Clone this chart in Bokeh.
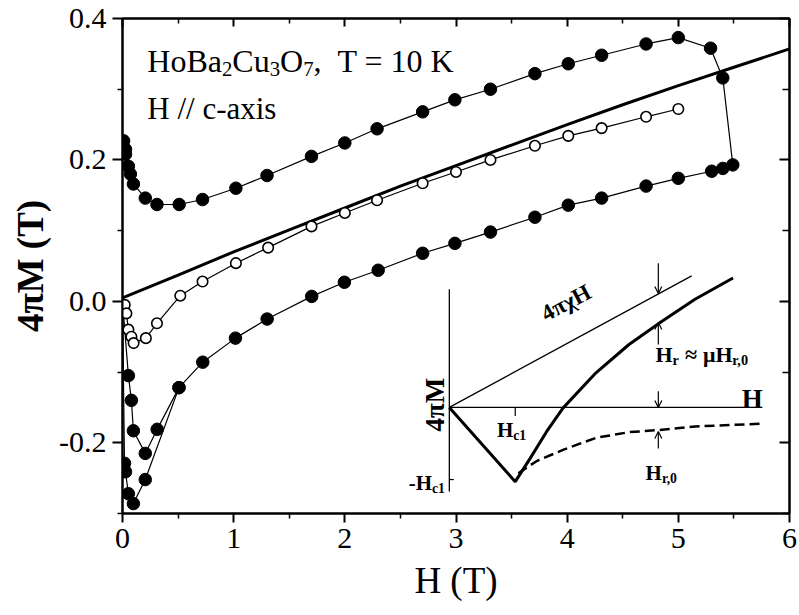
import numpy as np
from bokeh.plotting import figure
from bokeh.models import (LinearAxis, FixedTicker, NumeralTickFormatter, Label,
                          Arrow, OpenHead, Range1d, CustomLabelingPolicy)
from bokeh.embed import file_html
from bokeh.resources import INLINE

# ---------------- data ----------------
# main hysteresis loop (filled circles): up-sweep then down-sweep
loop_H = [0.0, 0.053, 0.080, 0.098, 0.205, 0.312, 0.508, 0.722, 1.016, 1.301, 1.702, 1.996,
          2.30, 2.70, 2.99, 3.31, 3.71, 4.01, 4.31, 4.71, 5.00, 5.30, 5.40, 5.49,
          5.40, 5.29, 5.00, 4.71, 4.31, 4.01, 3.71, 3.31, 2.99, 2.70, 2.29, 2.00,
          1.70, 1.30, 1.02, 0.72, 0.51, 0.31, 0.205, 0.098, 0.071, 0.053, 0.027, 0.027, 0.01]
loop_M = [0.0, -0.105, -0.140, -0.183, -0.215, -0.181, -0.122, -0.086, -0.052, -0.025, 0.007, 0.027,
          0.044, 0.068, 0.082, 0.098, 0.119, 0.136, 0.146, 0.163, 0.174, 0.184, 0.188, 0.193,
          0.316, 0.358, 0.373, 0.364, 0.348, 0.336, 0.322, 0.300, 0.285, 0.268, 0.244, 0.224,
          0.205, 0.178, 0.160, 0.144, 0.137, 0.137, 0.146, 0.166, 0.180, 0.191, 0.208, 0.215, 0.227]

# virgin curve (filled circles)
virgin_H = [0.0, 0.018, 0.027, 0.053, 0.098, 0.205, 0.508]
virgin_M = [0.0, -0.229, -0.241, -0.272, -0.286, -0.252, -0.122]

# open circles
open_H = [0.02, 0.035, 0.053, 0.08, 0.10, 0.21, 0.31, 0.52, 0.72, 1.02, 1.31, 1.70,
          2.00, 2.29, 2.70, 3.00, 3.31, 3.71, 4.01, 4.31, 4.71, 5.00]
open_M = [-0.005, -0.017, -0.040, -0.050, -0.059, -0.052, -0.031, 0.008, 0.028, 0.054, 0.076, 0.106,
          0.125, 0.143, 0.167, 0.183, 0.200, 0.220, 0.234, 0.245, 0.261, 0.272]

# thick reference line
thick_H = [0.0, 0.5, 1.0, 1.5, 2.0, 2.5, 3.0, 3.5, 4.0, 4.5, 5.0, 5.5, 6.0]
thick_M = [0.005, 0.037, 0.070, 0.101, 0.132, 0.163, 0.192, 0.221, 0.250, 0.278, 0.305, 0.331, 0.357]

# axis ticks
XTICKS = [0, 1, 2, 3, 4, 5, 6]
XMINOR = [0.5, 1.5, 2.5, 3.5, 4.5, 5.5]
YTICKS = [-0.2, 0.0, 0.2, 0.4]
YMINOR = [-0.3, -0.1, 0.1, 0.3]

# inset schematic (relative units)
ins_haxis_h = [0.0, 2.81]
ins_haxis_m = [0.0, 0.0]
ins_vaxis_h = [0.0, 0.0]
ins_vaxis_m = [0.167, -0.119]
ins_chi_h = [0.0, 2.18]
ins_chi_m = [0.0, 0.186]
ins_thick_h = [0.0, 0.593, 0.727, 0.876, 1.022, 1.319, 1.616, 1.913, 2.21, 2.552]
ins_thick_m = [0.0, -0.105, -0.072, -0.034, -0.001, 0.049, 0.089, 0.122, 0.153, 0.183]
ins_dash_h = [0.621, 0.784, 1.022, 1.319, 1.616, 1.884, 2.21, 2.804]
ins_dash_m = [-0.093, -0.076, -0.060, -0.043, -0.035, -0.032, -0.027, -0.023]
ins_arrow_h = 1.88
ins_arrows = [(0.204, 0.161), (0.089, 0.120), (0.023, 0.0), (-0.058, -0.034)]

# ---------------- styling ----------------
FONT = "Liberation Serif"
INSET_H0, INSET_M0 = 2.94, -0.150

REG_W = {' ': 250, ',': 250, '-': 333, '/': 278, '=': 564, 'B': 667, 'C': 667, 'H': 722,
         'K': 722, 'O': 722, 'T': 611, 'a': 444, 'c': 444, 'i': 278, 'o': 500, 's': 389,
         'u': 500, 'x': 500, 'r': 333}
BOLD_W = {' ': 250, ',': 250, '-': 333, 'H': 778, 'r': 444, 'c': 444, '≈': 549, 'μ': 556}


def text_width(s, size, bold):
    tbl = BOLD_W if bold else REG_W
    return sum(tbl.get(ch, 500) for ch in s) * size / 1000.0


def rich(p, x, y, pieces, size, bold=False, align_right=False, sub_scale=0.65, sub_drop=0.24):
    # pieces: list of (text, is_sub) or (None, gap_px)
    total = 0.0
    for txt, sub in pieces:
        if txt is None:
            total += sub
        else:
            total += text_width(txt, size * sub_scale if sub else size, bold)
    off = -total if align_right else 0.0
    for txt, sub in pieces:
        if txt is None:
            off += sub
            continue
        fs = size * sub_scale if sub else size
        p.add_layout(Label(x=x, y=y, x_offset=off, y_offset=(-size * sub_drop if sub else 0),
                           text=txt, text_font=FONT, text_font_size=f"{fs:.1f}px",
                           text_font_style="bold" if bold else "normal",
                           text_baseline="alphabetic", text_align="left", text_color="black"))
        off += text_width(txt, fs, bold)


p = figure(width=799, height=615, x_range=Range1d(0, 6), y_range=Range1d(-0.3, 0.4),
           output_backend="svg", toolbar_location=None,
           min_border_left=122, min_border_right=4, min_border_top=18, min_border_bottom=102)
p.grid.visible = False
p.outline_line_color = "black"
p.outline_line_width = 2

NO_LABELS = CustomLabelingPolicy(code="for (const i of indices) { indices.unset(i) } return indices")


def style_axis(ax, labels, inward, major_len, minor_len):
    ax.axis_line_width = 2
    ax.axis_line_color = "black"
    ax.major_tick_line_width = 2
    ax.minor_tick_line_width = 1.5
    ax.major_tick_line_color = "black"
    ax.minor_tick_line_color = "black"
    if inward:
        ax.major_tick_in, ax.major_tick_out = major_len, 0
        ax.minor_tick_in, ax.minor_tick_out = minor_len, 0
    else:
        ax.major_tick_in, ax.major_tick_out = 0, major_len
        ax.minor_tick_in, ax.minor_tick_out = 0, minor_len
    if labels:
        ax.major_label_text_font = FONT
        ax.major_label_text_font_size = "30px"
        ax.major_label_text_color = "black"
    else:
        ax.major_label_text_font_size = "1px"
        ax.major_label_policy = NO_LABELS


xa = p.xaxis[0]
xa.ticker = FixedTicker(ticks=XTICKS, minor_ticks=XMINOR)
style_axis(xa, True, False, 9, 5)
xa.major_label_standoff = 6
xa.axis_label = "H (T)"
xa.axis_label_text_font = FONT
xa.axis_label_text_font_size = "37px"
xa.axis_label_text_font_style = "normal"
xa.axis_label_text_color = "black"
xa.axis_label_standoff = 9

ya = p.yaxis[0]
ya.ticker = FixedTicker(ticks=YTICKS, minor_ticks=YMINOR)
ya.formatter = NumeralTickFormatter(format="0.0")
style_axis(ya, True, False, 10, 5)
ya.major_label_standoff = 6
ya.axis_label = "4πM (T)"
ya.axis_label_text_font = FONT
ya.axis_label_text_font_size = "37px"
ya.axis_label_text_font_style = "bold"
ya.axis_label_text_color = "black"
ya.axis_label_standoff = 5

top = LinearAxis(ticker=FixedTicker(ticks=XTICKS, minor_ticks=XMINOR))
style_axis(top, False, True, 8, 5)
p.add_layout(top, "above")
right = LinearAxis(ticker=FixedTicker(ticks=YTICKS, minor_ticks=YMINOR))
style_axis(right, False, True, 10, 7)
p.add_layout(right, "right")

# ---------------- main curves ----------------
p.line(thick_H, thick_M, line_color="black", line_width=3)
p.line(loop_H, loop_M, line_color="black", line_width=1.2)
p.line(virgin_H, virgin_M, line_color="black", line_width=1.2)
p.line(open_H, open_M, line_color="black", line_width=1.2)
p.scatter(loop_H[1:], loop_M[1:], marker="circle", size=12.5, fill_color="black", line_color="black")
p.scatter(virgin_H[1:], virgin_M[1:], marker="circle", size=12.5, fill_color="black", line_color="black")
p.scatter(open_H, open_M, marker="circle", size=10.5, fill_color="white", line_color="black", line_width=1.6)

# ---------------- annotations ----------------
rich(p, 0.223, 0.340, [("HoBa", False), ("2", True), ("Cu", False), ("3", True), ("O", False),
                      ("7", True), (",", False), (None, 16), ("T = 10 K", False)], 32)
rich(p, 0.223, 0.273, [("H // c-axis", False)], 31)

# ---------------- inset ----------------
def tx(a):
    return [INSET_H0 + v for v in a]


def ty(a):
    return [INSET_M0 + v for v in a]


p.line(tx(ins_haxis_h), ty(ins_haxis_m), line_color="black", line_width=1.3)
p.line(tx(ins_vaxis_h), ty(ins_vaxis_m), line_color="black", line_width=1.3)
p.line(tx(ins_chi_h), ty(ins_chi_m), line_color="black", line_width=1.3)
p.line(tx(ins_thick_h), ty(ins_thick_m), line_color="black", line_width=3)
p.line(tx(ins_dash_h), ty(ins_dash_m), line_color="black", line_width=2.5, line_dash="10 5")
for m0, m1 in ins_arrows:
    p.add_layout(Arrow(x_start=INSET_H0 + ins_arrow_h, y_start=INSET_M0 + m0,
                       x_end=INSET_H0 + ins_arrow_h, y_end=INSET_M0 + m1,
                       line_width=1.2, line_color="black",
                       end=OpenHead(size=7, line_width=1.2, line_color="black")))
# small ticks at Hc1 and -Hc1
p.line(tx([0.0, 0.04]), ty([-0.102, -0.102]), line_color="black", line_width=1.2)
p.line(tx([0.593, 0.593]), ty([0.0, -0.012]), line_color="black", line_width=1.2)

p.add_layout(Label(x=INSET_H0 - 0.125, y=INSET_M0 + 0.004, text="4πM", angle=np.pi / 2,
                   text_font=FONT, text_font_size="27px", text_font_style="bold",
                   text_color="black", text_align="center", text_baseline="middle"))
p.add_layout(Label(x=INSET_H0 + 1.05, y=INSET_M0 + 0.148, text="4πχH", angle=0.49,
                   text_font=FONT, text_font_size="23px", text_font_style="bold",
                   text_color="black", text_align="center", text_baseline="middle"))
p.add_layout(Label(x=INSET_H0 + 2.63, y=INSET_M0 + 0.012, text="H",
                   text_font=FONT, text_font_size="27px", text_font_style="bold",
                   text_color="black", text_align="left", text_baseline="alphabetic"))
rich(p, INSET_H0 + 1.854, INSET_M0 + 0.075,
     [("H", False), ("r", True), (None, 6), ("≈", False), (None, 6), ("μH", False), ("r,0", True)],
     22, bold=True)
rich(p, INSET_H0 + 0.428, INSET_M0 - 0.032, [("H", False), ("c1", True)], 21, bold=True)
rich(p, INSET_H0 - 0.04, INSET_M0 - 0.107, [("-H", False), ("c1", True)], 21, bold=True,
     align_right=True)
rich(p, INSET_H0 + 1.765, INSET_M0 - 0.093, [("H", False), ("r,0", True)], 21, bold=True)

open("out.html", "w").write(file_html(p, INLINE))
